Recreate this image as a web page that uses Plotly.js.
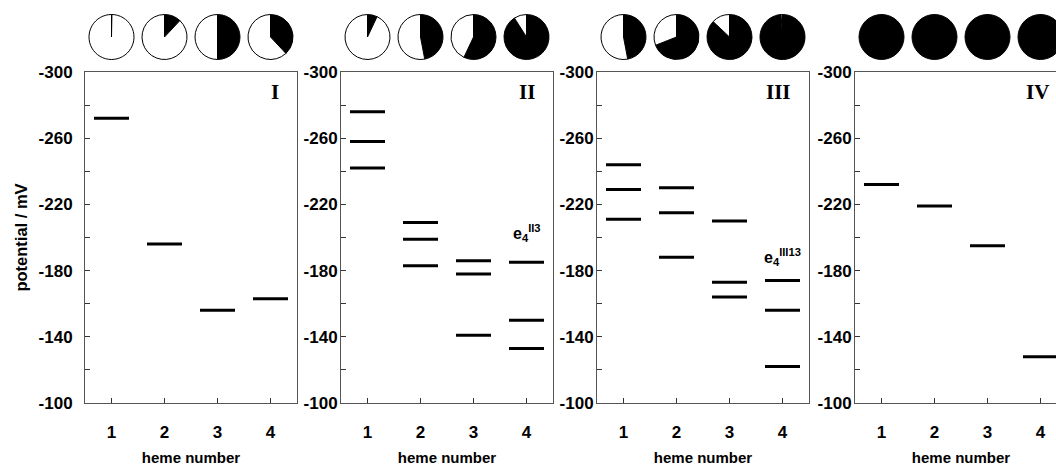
<!DOCTYPE html>
<html>
<head>
<meta charset="utf-8">
<script src="https://cdn.plot.ly/plotly-3.0.1.min.js"></script>
<style>
  html, body { margin: 0; padding: 0; background: #fff; overflow: hidden; }
  #chart { width: 1070px; height: 466px; }
</style>
</head>
<body>
<div id="chart"></div>
<script>
// ---- data ----
const hemeTicks = [1, 2, 3, 4];
const tickLabels = ['1', '2', '3', '4'];
const yTickVals = [-300, -260, -220, -180, -140, -100];
const yTickText = ['-300', '-260', '-220', '-180', '-140', '-100'];
const panelNames = ['I', 'II', 'III', 'IV'];

// Panel I: one potential per heme (mV)
const hemeI = [1, 2, 3, 4];
const potI = [-272, -196, -156, -163];

// Panel II: three potentials per heme
const hemeII = [1, 1, 1, 2, 2, 2, 3, 3, 3, 4, 4, 4];
const potII = [-276, -258, -242, -209, -199, -183, -186, -178, -141, -185, -150, -133];

// Panel III
const hemeIII = [1, 1, 1, 2, 2, 2, 3, 3, 3, 4, 4, 4];
const potIII = [-244, -229, -211, -230, -215, -188, -210, -173, -164, -174, -156, -122];

// Panel IV
const hemeIV = [1, 2, 3, 4];
const potIV = [-232, -219, -195, -128];

// Oxidised (black) fraction shown in the pie above each heme
const fracI = [0.003, 0.12, 0.5, 0.38];
const fracII = [0.07, 0.47, 0.57, 0.91];
const fracIII = [0.47, 0.69, 0.87, 0.99];
const fracIV = [1, 1, 1, 1];

// ---- layout geometry ----
const W = 1070, H = 466;
const panelPx = [[85, 297], [341, 553], [597, 809], [855, 1067]];
const plotTop = 72, plotBottom = 403;
const xRange = [0.5, 4.5];
const yRange = [-100, -300];
const pieCy = 37, pieD = 45;

const boldFont = (size) => ({ family: 'Arial, "Liberation Sans", sans-serif', size: size, color: '#000', weight: 'bold' });

const heme = [hemeI, hemeII, hemeIII, hemeIV];
const pots = [potI, potII, potIII, potIV];
const fracs = [fracI, fracII, fracIII, fracIV];

const traces = [];
const layout = {
  width: W, height: H,
  margin: { l: 0, r: 0, t: 0, b: 0 },
  paper_bgcolor: '#fff', plot_bgcolor: '#fff',
  showlegend: false,
  annotations: []
};

panelPx.forEach((px, i) => {
  const n = i === 0 ? '' : String(i + 1);
  const xd = [px[0] / W, px[1] / W];
  const yd = [(H - plotBottom) / H, (H - plotTop) / H];
  layout['xaxis' + n] = {
    domain: xd, anchor: 'y' + n, range: xRange,
    tickvals: hemeTicks, ticktext: tickLabels,
    ticks: 'inside', ticklen: 5, tickcolor: '#333', tickwidth: 1,
    showline: true, mirror: true, linecolor: '#555', linewidth: 1,
    showgrid: false, zeroline: false, fixedrange: true,
    tickfont: boldFont(17), ticklabelstandoff: 14,
    title: { text: 'heme number', font: boldFont(15), standoff: 11 }
  };
  const ya = {
    domain: yd, anchor: 'x' + n, range: yRange,
    tickvals: yTickVals, ticktext: yTickText,
    ticks: 'inside', ticklen: 5, tickcolor: '#333', tickwidth: 1,
    minor: { dtick: 20, ticks: 'inside', ticklen: 5, tickcolor: '#333' },
    showline: true, mirror: true, linecolor: '#555', linewidth: 1,
    showgrid: false, zeroline: false, fixedrange: true,
    tickfont: boldFont(17), ticklabelstandoff: i === 0 ? 8 : -1
  };
  if (i === 0) ya.title = { text: 'potential / mV', font: boldFont(16.5), standoff: 6 };
  layout['yaxis' + n] = ya;

  traces.push({
    type: 'scatter', mode: 'markers',
    x: heme[i], y: pots[i],
    xaxis: 'x' + n, yaxis: 'y' + n,
    marker: { symbol: 'line-ew', size: 25, color: '#000', line: { width: 3, color: '#000' } },
    hoverinfo: 'x+y'
  });

  // panel label
  layout.annotations.push({
    xref: 'x' + n + ' domain', yref: 'y' + n + ' domain',
    x: 1 - 16 / (px[1] - px[0]), y: 1 - 20 / (plotBottom - plotTop),
    xanchor: 'right', yanchor: 'middle', showarrow: false,
    text: panelNames[i],
    font: { family: '"Times New Roman", "Liberation Serif", serif', size: 21, color: '#000', weight: 'bold' }
  });

  // pies above each heme position
  hemeTicks.forEach((h, k) => {
    const cx = px[0] + (h - xRange[0]) / (xRange[1] - xRange[0]) * (px[1] - px[0]);
    const f = fracs[i][k];
    traces.push({
      type: 'pie', values: [f, 1 - f], sort: false, direction: 'clockwise', rotation: 0,
      marker: { colors: ['#000', '#fff'], line: { color: '#000', width: 1 } },
      textinfo: 'none', hoverinfo: 'none',
      domain: { x: [(cx - pieD / 2) / W, (cx + pieD / 2) / W], y: [(H - pieCy - pieD / 2) / H, (H - pieCy + pieD / 2) / H] }
    });
  });
});

// e4 state labels
layout.annotations.push({
  xref: 'x2', yref: 'y2', x: 4, y: -203, showarrow: false,
  text: 'e<sub>4</sub><sup>II3</sup>', font: boldFont(16)
});
layout.annotations.push({
  xref: 'x3', yref: 'y3', x: 4, y: -188, showarrow: false,
  text: 'e<sub>4</sub><sup>III13</sup>', font: boldFont(16)
});

Plotly.newPlot('chart', traces, layout, { staticPlot: true, displayModeBar: false });
</script>
</body>
</html>
